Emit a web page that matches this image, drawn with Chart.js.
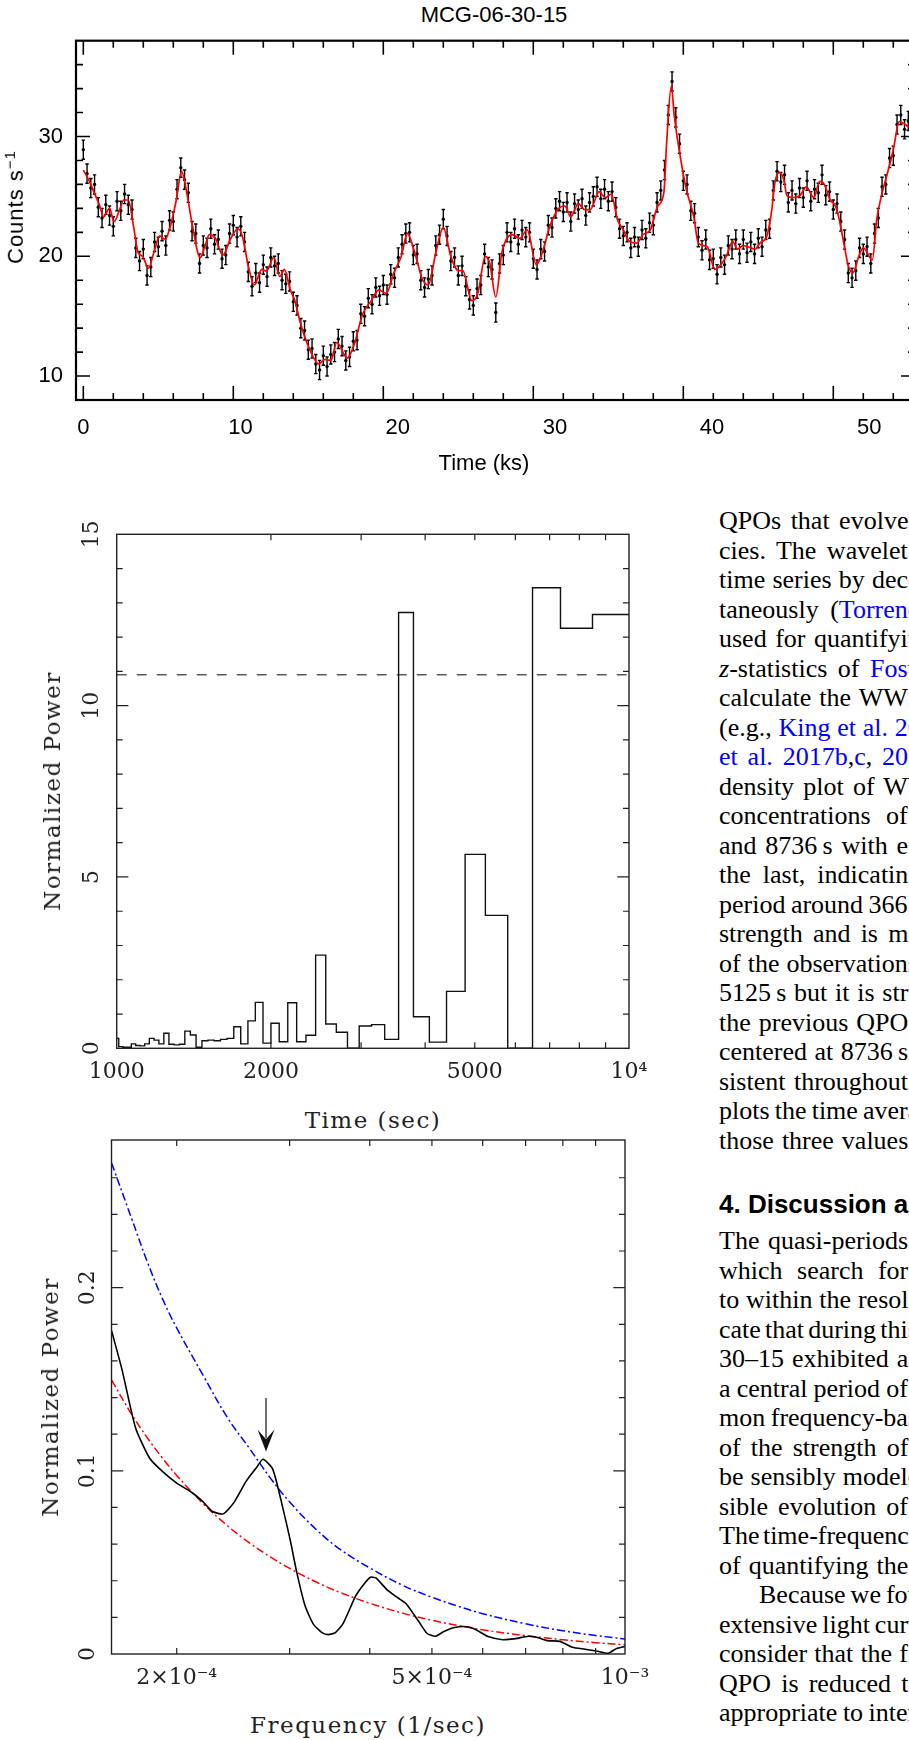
<!DOCTYPE html>
<html>
<head>
<meta charset="utf-8">
<title>MCG-06-30-15</title>
<script src="https://cdn.jsdelivr.net/npm/chart.js@4.4.1/dist/chart.umd.min.js"></script>
<style>
  html, body { margin: 0; padding: 0; background: #fff; width: 909px; height: 1740px; overflow: hidden; position: relative; }
  canvas { position: absolute; left: 0; }
  .lab { position: absolute; white-space: nowrap; transform: translate(-50%, -50%); }
  .rot { transform: translate(-50%, -50%) rotate(-90deg); }
  .sans { font-family: "Liberation Sans", Arial, sans-serif; font-size: 22px; color: #000; }
  .serif { font-family: "DejaVu Serif", serif; font-size: 23px; letter-spacing: 1.5px; color: #222; }
  .ln { position: absolute; white-space: nowrap; font-family: "Liberation Serif", "Times New Roman", serif; font-size: 26px; line-height: 29.5px; color: #000; }
  .ln .b { color: #0000ff; }
  .hd { position: absolute; left: 719px; white-space: nowrap; font-family: "Liberation Sans", Arial, sans-serif; font-weight: bold; font-size: 26px; line-height: 30px; }
</style>
</head>
<body>
<div class="lab sans" style="left:494px; top:15px;">MCG-06-30-15</div>
<canvas id="lightCurve" width="930" height="480" style="top:0"></canvas>
<div class="lab sans" style="left:484px; top:463px;">Time (ks)</div>
<div class="lab sans rot" style="left:15px; top:207px; letter-spacing:1px;">Counts s<sup style="font-size:15px">−1</sup></div>

<canvas id="periodogram" width="660" height="600" style="top:500px"></canvas>
<div class="lab serif rot" style="left:52px; top:791px;">Normalized Power</div>
<div class="lab serif" style="left:373px; top:1120px;">Time (sec)</div>

<canvas id="psd" width="660" height="600" style="top:1100px"></canvas>
<div class="lab serif rot" style="left:50px; top:1397px;">Normalized Power</div>
<div class="lab serif" style="left:368px; top:1725px;">Frequency (1/sec)</div>

<script>
// ---- light curve (0.25 ks bins) ----
const lcBinKs = 0.25;
const lcError = 0.8;
const lcCounts = [
  28.9, 26.9, 25.7, 26.0, 24.1, 23.2, 24.3, 23.4, 22.5, 24.6, 23.8, 25.2, 24.3, 23.9, 20.7, 19.6,
  20.6, 18.4, 19.1, 21.2, 20.8, 22.1, 20.9, 23.0, 22.9, 25.6, 27.4, 26.4, 25.3, 22.1, 21.9, 19.4,
  20.9, 20.7, 22.3, 21.0, 21.4, 19.8, 20.1, 21.9, 22.6, 21.6, 22.5, 21.2, 18.7, 17.5, 18.6, 17.8,
  19.3, 18.3, 19.9, 19.2, 19.4, 18.0, 17.7, 17.9, 16.2, 15.9, 14.0, 13.8, 12.2, 12.3, 11.0, 10.5,
  11.7, 10.8, 11.8, 12.0, 13.1, 12.5, 11.3, 11.6, 12.9, 13.0, 15.2, 15.0, 16.5, 16.0, 17.4, 16.7,
  17.6, 16.8, 18.5, 18.2, 19.9, 21.0, 21.9, 22.0, 20.1, 20.2, 18.0, 17.4, 18.1, 18.4, 20.9, 21.8,
  23.1, 21.7, 19.6, 19.9, 18.4, 19.2, 17.5, 16.4, 15.9, 17.3, 17.6, 20.2, 19.1, 18.9, 15.3, 19.4,
  20.1, 22.0, 21.2, 22.3, 21.0, 22.2, 21.6, 22.0, 19.8, 18.9, 20.6, 20.4, 22.6, 22.4, 24.0, 24.6,
  23.7, 24.5, 22.9, 24.4, 23.9, 24.8, 23.4, 24.5, 25.0, 25.8, 24.8, 25.6, 24.6, 25.4, 24.1, 22.3,
  21.7, 22.0, 20.7, 21.6, 20.8, 22.2, 21.5, 22.8, 22.6, 24.5, 25.5, 27.2, 31.8, 34.6, 31.6, 29.4,
  26.3, 26.0, 23.8, 23.6, 21.6, 20.5, 21.4, 19.7, 19.8, 18.5, 19.9, 19.3, 20.9, 20.6, 21.4, 20.2,
  21.4, 20.3, 21.2, 20.2, 21.5, 20.8, 22.2, 22.3, 25.5, 27.1, 26.2, 26.8, 24.5, 25.5, 24.4, 25.7,
  24.9, 26.3, 24.6, 25.6, 25.3, 26.8, 25.1, 25.4, 23.9, 24.4, 22.9, 21.4, 18.6, 18.2, 18.8, 20.7,
  20.2, 20.8, 19.4, 21.9, 23.2, 25.8, 26.0, 28.2, 28.4, 31.0, 31.8, 30.6, 31.3, 30.2
];
const smoothTimes = [
  0.0, 0.35, 0.8, 1.1, 1.35, 1.75, 2.05, 2.45, 2.7, 3.0, 3.35, 3.65, 3.95, 4.35, 4.7, 5.1, 5.45, 5.8,
  6.2, 6.55, 6.9, 7.2, 7.8, 8.1, 8.4, 8.8, 9.3, 9.8, 10.3, 10.6, 11.0, 11.4, 11.9, 12.2, 12.7, 13.1,
  13.4, 13.8, 14.1, 14.5, 15.1, 15.7, 16.1, 16.5, 16.9, 17.6, 18.1, 18.6, 19.2, 19.7, 20.2, 20.7,
  21.2, 21.6, 22.1, 22.6, 23.0, 23.5, 24.0, 24.5, 25.0, 25.3, 25.9, 26.3, 26.8, 27.1, 27.5, 27.9,
  28.2, 28.6, 29.1, 29.6, 30.2, 30.6, 31.1, 31.7, 32.1, 32.5, 33.0, 33.4, 33.8, 34.4, 34.8, 35.2,
  35.6, 36.0, 36.4, 36.9, 37.3, 37.8, 38.3, 38.7, 38.9, 39.2, 39.4, 39.8, 40.2, 40.7, 41.0, 41.6,
  42.1, 42.6, 42.9, 43.3, 43.6, 44.0, 44.8, 45.1, 45.6, 45.9, 46.1, 46.4, 46.7, 46.9, 47.3, 47.8,
  48.2, 48.7, 49.1, 49.4, 49.8, 50.1, 50.3, 50.7, 51.0, 51.3, 51.7, 52.0, 52.6, 52.9, 53.2, 53.6,
  54.0, 54.4, 54.8, 55.2
];
const smoothCounts = [
  27.2, 26.4, 25.1, 24.2, 23.3, 24.0, 22.9, 24.0, 24.7, 24.7, 22.5, 20.3, 20.0, 19.0, 20.3, 21.7, 21.4, 22.5,
  24.7, 27.1, 25.3, 23.1, 19.9, 20.8, 21.8, 21.5, 20.1, 21.4, 22.3, 21.7, 19.2, 17.6, 18.9, 18.75, 19.9, 18.3,
  18.9, 17.2, 16.3, 14.3, 12.2, 11.0, 11.4, 11.3, 12.8, 11.5, 12.8, 15.1, 16.3, 17.2, 16.9, 18.6,
  20.0, 21.9, 20.3, 18.1, 17.6, 20.3, 22.4, 20.0, 18.8, 18.8, 16.3, 16.9, 20.0, 19.4, 16.6, 20.3,
  21.4, 21.8, 21.5, 22.2, 19.3, 20.3, 22.5, 24.0, 24.2, 23.3, 24.4, 23.9, 23.9, 25.4, 24.9, 25.2,
  23.1, 22.2, 21.25, 21.1, 21.8, 22.2, 24.2, 25.3, 29.7, 34.2, 31.7, 28.3, 25.6, 23.3, 21.1, 20.8,
  18.9, 19.45, 20.1, 21.25, 20.6, 20.9, 20.6, 21.1, 21.8, 23.9, 26.1, 27.0, 26.4, 25.1, 24.9, 25.1,
  25.8, 24.9, 26.25, 26.0, 24.7, 24.3, 23.6, 21.1, 19.2, 18.6, 20.0, 20.7, 19.7, 23.1, 25.0, 26.9,
  28.9, 31.25, 31.0, 30.6
];
const lcTickLabels = [0, 10, 20, 30, 40, 50];
const countTickLabels = [10, 20, 30];

// ---- periodogram (period in s) ----
const periodSec = [
  1000, 1018.5, 1037.7, 1057.7, 1078.4, 1100, 1122.4, 1145.8, 1170.2, 1195.7, 1222.2, 1250, 1279.1,
  1309.5, 1341.5, 1375, 1410.3, 1447.4, 1486.5, 1527.8, 1571.4, 1617.6, 1666.7, 1718.8, 1774.2,
  1833.3, 1896.6, 1964.3, 2037, 2115.4, 2200, 2291.7, 2391.3, 2500, 2619, 2750, 2894.7, 3055.6,
  3235.3, 3437.5, 3666.7, 3928.6, 4230.8, 4583.3, 5000, 5500, 6111.1, 6875, 7857.1, 9166.7, 10000
];
const periodPower = [
  0.29, 0.05, 0.03, 0.03, 0.13, 0.08, 0.07, 0.13, 0.29, 0.24, 0.13, 0.44, 0.12,
  0.10, 0.12, 0.50, 0.39, 0.03, 0.22, 0.24, 0.22, 0.26, 0.29, 0.63, 0.13,
  0.80, 1.34, 0.15, 0.73, 0.19, 1.33, 0.19, 0.38, 2.72, 0.71, 0.47, 0.00, 0.65,
  0.69, 0.26, 12.72, 0.92, 0.18, 1.66, 5.66, 3.88, 0.00, 13.44, 12.26, 12.66, 12.66
];
const sigLevel = 10.9;
const periodTickLabels = { 1000: '1000', 2000: '2000', 5000: '5000', 10000: '10⁴' };

// ---- power spectrum ----
const psdFreq = [
  1.583e-4, 1.644e-4, 1.725e-4, 1.814e-4, 1.898e-4, 2.0e-4, 2.109e-4, 2.191e-4, 2.275e-4, 2.363e-4,
  2.454e-4, 2.567e-4, 2.666e-4, 2.727e-4, 2.823e-4, 2.910e-4, 3.007e-4, 3.077e-4, 3.171e-4, 3.268e-4,
  3.369e-4, 3.446e-4, 3.536e-4, 3.634e-4, 3.803e-4, 3.919e-4, 4.009e-4, 4.088e-4, 4.258e-4, 4.422e-4,
  4.558e-4, 4.769e-4, 4.915e-4, 5.066e-4, 5.221e-4, 5.422e-4, 5.673e-4, 5.847e-4, 6.117e-4, 6.451e-4,
  6.75e-4, 7.066e-4, 7.284e-4, 7.564e-4, 7.914e-4, 8.279e-4, 8.663e-4, 9.066e-4, 9.414e-4, 9.703e-4, 1e-3
];
const psdPower = [
  0.1765, 0.155, 0.1235, 0.107, 0.0998, 0.0933, 0.0883, 0.0836, 0.0778, 0.0765,
  0.0825, 0.0944, 0.102, 0.1063, 0.1009, 0.0836, 0.062, 0.0447, 0.0263, 0.0162,
  0.0117, 0.0106, 0.0117, 0.0166, 0.0317, 0.0382, 0.0419, 0.0415, 0.035, 0.0307,
  0.0274, 0.0177, 0.0112, 0.0097, 0.0123, 0.0145, 0.0149, 0.0134, 0.0095, 0.0078,
  0.0084, 0.0097, 0.0091, 0.0073, 0.0069, 0.0037, 0.0026, 0.0015, 0.0004, 0.003, 0.0041
];
const modelFreq = [
  1.583e-4, 1.7e-4, 1.8e-4, 1.9e-4, 2.0e-4, 2.2e-4, 2.4e-4, 2.6e-4, 2.8e-4, 3.0e-4, 3.3e-4,
  3.6e-4, 4.0e-4, 4.5e-4, 5.0e-4, 5.5e-4, 6.0e-4, 7.0e-4, 8.0e-4, 9.0e-4, 1e-3
];
const redNoise = [
  0.1495, 0.131, 0.118, 0.107, 0.0975, 0.082, 0.070, 0.0605, 0.053, 0.0467, 0.0393,
  0.0335, 0.0277, 0.0223, 0.0184, 0.0155, 0.0132, 0.0100, 0.0078, 0.0062, 0.0050
];
const confLevel = [
  0.268, 0.238, 0.214, 0.194, 0.178, 0.152, 0.129, 0.112, 0.096, 0.083, 0.068,
  0.057, 0.047, 0.0375, 0.031, 0.026, 0.022, 0.0165, 0.0127, 0.0101, 0.0082
];
const qpoFreq = 2.756e-4;
const arrowTop = 0.1397;
const arrowTip = 0.1106;
const freqTickLabels = { 20: '2×10⁻⁴', 50: '5×10⁻⁴', 100: '10⁻³' };

// plot frame with inward ticks on all four sides (pgplot look)
function frameTicks(cfg) {
  return {
    id: 'frameTicks',
    afterDatasetsDraw(chart) {
      const { ctx, chartArea: a } = chart;
      const xs = chart.scales.x, ys = chart.scales.y;
      ctx.save();
      ctx.strokeStyle = cfg.color;
      ctx.lineWidth = cfg.tickWidth;
      ctx.beginPath();
      cfg.xTicks.forEach(v => {
        const px = xs.getPixelForValue(v);
        const len = cfg.xMajor.includes(v) ? cfg.majorLen : cfg.minorLen;
        ctx.moveTo(px, a.bottom); ctx.lineTo(px, a.bottom - len);
        ctx.moveTo(px, a.top); ctx.lineTo(px, a.top + len);
      });
      cfg.yTicks.forEach(v => {
        const py = ys.getPixelForValue(v);
        const len = cfg.yMajor.includes(v) ? cfg.majorLen : cfg.minorLen;
        ctx.moveTo(a.left, py); ctx.lineTo(a.left + len, py);
        ctx.moveTo(a.right, py); ctx.lineTo(a.right - len, py);
      });
      ctx.stroke();
      ctx.lineWidth = cfg.frameWidth;
      ctx.strokeRect(a.left, a.top, a.right - a.left, a.bottom - a.top);
      if (cfg.yLabels) {
        ctx.fillStyle = cfg.color;
        ctx.font = '22px "DejaVu Serif"';
        ctx.textAlign = 'center';
        ctx.textBaseline = 'middle';
        cfg.yLabels.forEach(([v, txt]) => {
          ctx.save();
          ctx.translate(cfg.yLabelX, ys.getPixelForValue(v));
          ctx.rotate(-Math.PI / 2);
          ctx.fillText(txt, 0, 0);
          ctx.restore();
        });
      }
      ctx.restore();
    }
  };
}

const errorBars = {
  id: 'errorBars',
  beforeDatasetsDraw(chart) {
    const { ctx } = chart;
    const xs = chart.scales.x, ys = chart.scales.y;
    ctx.save();
    ctx.strokeStyle = '#000';
    ctx.lineWidth = 1.4;
    ctx.beginPath();
    lcCounts.forEach((c, i) => {
      const px = xs.getPixelForValue(i * lcBinKs);
      const lo = ys.getPixelForValue(c - lcError), hi = ys.getPixelForValue(c + lcError);
      ctx.moveTo(px, lo); ctx.lineTo(px, hi);
      ctx.moveTo(px - 1.7, lo); ctx.lineTo(px + 1.7, lo);
      ctx.moveTo(px - 1.7, hi); ctx.lineTo(px + 1.7, hi);
    });
    ctx.stroke();
    ctx.restore();
  }
};

const qpoArrow = {
  id: 'qpoArrow',
  afterDatasetsDraw(chart) {
    const { ctx } = chart;
    const x = chart.scales.x.getPixelForValue(qpoFreq);
    const y0 = chart.scales.y.getPixelForValue(arrowTop);
    const y1 = chart.scales.y.getPixelForValue(arrowTip);
    const head = 22, half = 8.5;
    ctx.save();
    ctx.strokeStyle = '#111';
    ctx.fillStyle = '#111';
    ctx.lineWidth = 1.2;
    ctx.beginPath(); ctx.moveTo(x, y0); ctx.lineTo(x, y1 - head * 0.6); ctx.stroke();
    ctx.beginPath();
    ctx.moveTo(x, y1);
    ctx.lineTo(x - half, y1 - head);
    ctx.lineTo(x, y1 - head * 0.55);
    ctx.lineTo(x + half, y1 - head);
    ctx.closePath();
    ctx.fill();
    ctx.restore();
  }
};

const noGrid = { display: false, drawTicks: false };
const serifTicks = { family: '"DejaVu Serif"', size: 22 };
const sansTicks = { family: '"Liberation Sans", Arial', size: 22 };

// top: light curve
new Chart(document.getElementById('lightCurve'), {
  type: 'line',
  data: {
    datasets: [{
      data: smoothTimes.map((t, i) => ({ x: t, y: smoothCounts[i] })),
      borderColor: '#ff0000',
      borderWidth: 1.7,
      pointRadius: 0,
      cubicInterpolationMode: 'monotone'
    }, {
      data: lcCounts.map((c, i) => ({ x: i * lcBinKs, y: c })),
      showLine: false,
      pointRadius: 1.7,
      pointBorderWidth: 0,
      pointBackgroundColor: '#000'
    }]
  },
  options: {
    responsive: false,
    animation: false,
    layout: { padding: { left: 0, top: 40.7, right: 15, bottom: 0 } },
    scales: {
      x: { type: 'linear', display: false, min: -0.487, max: 55.447 },
      xlab: {
        type: 'linear', position: 'bottom', min: -0.464, max: 52.907,
        afterFit: s => { s.height = 80; },
        afterBuildTicks: s => { s.ticks = lcTickLabels.map(v => ({ value: v })); },
        grid: noGrid, border: { display: false },
        ticks: { padding: 14.8, color: '#000', font: sansTicks }
      },
      y: {
        min: 8, max: 38,
        afterFit: s => { s.width = 76; },
        afterBuildTicks: s => { s.ticks = countTickLabels.map(v => ({ value: v })); },
        grid: noGrid, border: { display: false },
        ticks: { padding: 13, color: '#000', font: sansTicks }
      }
    },
    plugins: { legend: { display: false }, tooltip: { enabled: false } }
  },
  plugins: [errorBars, frameTicks({
    color: '#000', tickWidth: 1.6, frameWidth: 2.2, majorLen: 14, minorLen: 7,
    xTicks: [0, 2, 4, 6, 8, 10, 12, 14, 16, 18, 20, 22, 24, 26, 28, 30, 32, 34, 36, 38, 40, 42, 44, 46, 48, 50, 52, 54],
    xMajor: [0, 10, 20, 30, 40, 50],
    yTicks: [10, 12, 14, 16, 18, 20, 22, 24, 26, 28, 30, 32, 34, 36],
    yMajor: [10, 20, 30]
  })]
});

// middle: periodogram
new Chart(document.getElementById('periodogram'), {
  type: 'line',
  data: {
    datasets: [{
      data: periodSec.map((p, i) => ({ x: p, y: periodPower[i] })),
      stepped: 'middle',
      borderColor: '#111',
      borderWidth: 1.4,
      pointRadius: 0
    }, {
      data: [{ x: 1000, y: sigLevel }, { x: 10000, y: sigLevel }],
      borderColor: '#333',
      borderWidth: 1.2,
      borderDash: [10, 10],
      pointRadius: 0
    }]
  },
  options: {
    responsive: false,
    animation: false,
    layout: { padding: { left: 0, top: 34.3, right: 31, bottom: 0 } },
    scales: {
      x: {
        type: 'logarithmic', min: 1000, max: 10000,
        afterFit: s => { s.height = 51.7; },
        grid: noGrid, border: { display: false },
        ticks: {
          autoSkip: false, maxRotation: 0, padding: 11.2, color: '#222', font: serifTicks,
          callback: v => periodTickLabels[Math.round(v)] || ''
        }
      },
      y: {
        min: 0, max: 15,
        afterFit: s => { s.width = 116.7; },
        grid: noGrid, border: { display: false },
        ticks: { display: false }
      }
    },
    plugins: { legend: { display: false }, tooltip: { enabled: false } }
  },
  plugins: [frameTicks({
    color: '#222', tickWidth: 1.2, frameWidth: 1.4, majorLen: 11.7, minorLen: 6,
    xTicks: [2000, 3000, 4000, 5000, 6000, 7000, 8000, 9000],
    xMajor: [],
    yTicks: [1, 2, 3, 4, 5, 6, 7, 8, 9, 10, 11, 12, 13, 14],
    yMajor: [5, 10],
    yLabelX: 92,
    yLabels: [[0, '0'], [5, '5'], [10, '10'], [15, '15']]
  })]
});

// bottom: power spectrum with red-noise model
new Chart(document.getElementById('psd'), {
  type: 'line',
  data: {
    datasets: [{
      data: psdFreq.map((f, i) => ({ x: f, y: psdPower[i] })),
      borderColor: '#000',
      borderWidth: 1.6,
      pointRadius: 0,
      tension: 0.2
    }, {
      data: modelFreq.map((f, i) => ({ x: f, y: redNoise[i] })),
      borderColor: '#ff0000',
      borderWidth: 1.5,
      borderDash: [8, 3, 2, 3],
      pointRadius: 0,
      tension: 0.4
    }, {
      data: modelFreq.map((f, i) => ({ x: f, y: confLevel[i] })),
      borderColor: '#0000ff',
      borderWidth: 1.5,
      borderDash: [8, 3, 2, 3],
      pointRadius: 0,
      tension: 0.4
    }]
  },
  options: {
    responsive: false,
    animation: false,
    layout: { padding: { left: 0, top: 40, right: 35, bottom: 0 } },
    scales: {
      x: {
        type: 'logarithmic', min: 1.5825e-4, max: 1e-3,
        afterFit: s => { s.height = 46; },
        grid: noGrid, border: { display: false },
        ticks: {
          autoSkip: false, maxRotation: 0, padding: 10.8, color: '#222', font: serifTicks,
          callback: v => freqTickLabels[Math.round(v * 1e5)] || ''
        }
      },
      y: {
        min: 0, max: 0.2806,
        afterFit: s => { s.width = 111.5; },
        grid: noGrid, border: { display: false },
        ticks: { display: false }
      }
    },
    plugins: { legend: { display: false }, tooltip: { enabled: false } }
  },
  plugins: [qpoArrow, frameTicks({
    color: '#222', tickWidth: 1.2, frameWidth: 1.4, majorLen: 11.7, minorLen: 6,
    xTicks: [2e-4, 3e-4, 4e-4, 5e-4, 6e-4, 7e-4, 8e-4, 9e-4],
    xMajor: [],
    yTicks: [0.02, 0.04, 0.06, 0.08, 0.1, 0.12, 0.14, 0.16, 0.18, 0.2, 0.22, 0.24, 0.26],
    yMajor: [0.1, 0.2],
    yLabelX: 88,
    yLabels: [[0, '0'], [0.1, '0.1'], [0.2, '0.2']]
  })]
});

// ---- page text (right column, clipped by the page edge) ----
const para1 = [
  'QPOs that evolve| in',
  'cies. The wavelet| transform',
  'time series by dec|omposing',
  'taneously (<span class="b">Torren|ce &amp; Compo 1998</span>)',
  'used for quantifyi|ng',
  '<i>z</i>-statistics of <span class="b">Fos|ter (1996)</span>',
  'calculate the WW|Z',
  '(e.g., <span class="b">King et al. 2|017</span>',
  '<span class="b">et al. 2017b</span>,<span class="b">c</span>, <span class="b">20|18</span>',
  'density plot of W|WZ',
  'concentrations of| power',
  'and 8736\u2009s with e|nhanced',
  'the last, indicatin|g',
  'period around 366|3\u2009s',
  'strength and is m|ost',
  'of the observation|s',
  '5125\u2009s but it is str|onger',
  'the previous QPO| at',
  'centered at 8736\u2009s| is',
  'sistent throughout| the',
  'plots the time aver|aged',
  'those three values| of'
];
const para2 = [
  'The quasi-periods| found',
  'which search for| the',
  'to within the resol|ution',
  'cate that during thi|s',
  '30–15 exhibited a| QPO',
  'a central period of| 3663',
  'mon frequency-ba|sed',
  'of the strength of| the',
  'be sensibly model|ed',
  'sible evolution of| the',
  'The time-frequenc|y',
  'of quantifying the| QPO',
  'Because we fo|und',
  'extensive light cur|ves',
  'consider that the f|irst',
  'QPO is reduced t|o',
  'appropriate to inte|rpret'
];
const textLeft = 719, textRight = 908, lineStep = 29.5;

function addLine(html, centerY, left) {
  const div = document.createElement('div');
  div.className = 'ln';
  div.style.left = left + 'px';
  div.style.top = (centerY - lineStep / 2) + 'px';
  div.innerHTML = html.replace('|', '<span class="cut"></span>');
  document.body.appendChild(div);
  // justified column: stretch the word spaces so the visible part reaches the edge
  const visible = html.split('|')[0].replace(/<[^>]*>/g, '');
  const spaces = visible.split(' ').length - 1;
  const slack = textRight - left - div.querySelector('.cut').offsetLeft;
  if (spaces > 0) div.style.wordSpacing = Math.max(-3, Math.min(10, slack / spaces)) + 'px';
}

para1.forEach((l, i) => addLine(l, 521 + i * lineStep, textLeft));
const hd = document.createElement('div');
hd.className = 'hd';
hd.style.top = (1204 - 15) + 'px';
hd.textContent = '4. Discussion and conclusions';
document.body.appendChild(hd);
para2.forEach((l, i) => addLine(l, 1241 + i * lineStep, l.startsWith('Because') ? textLeft + 40 : textLeft));
</script>
</body>
</html>
